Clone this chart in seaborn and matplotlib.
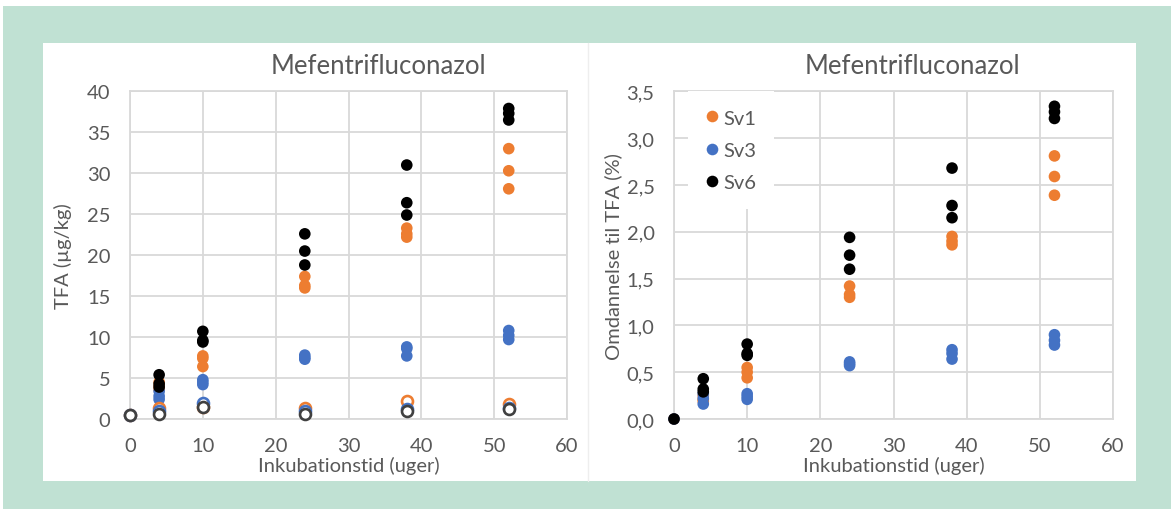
import matplotlib
matplotlib.use("Agg")
import matplotlib.pyplot as plt
from matplotlib.patches import Rectangle
from matplotlib.ticker import FuncFormatter
import numpy as np
import pandas as pd
import seaborn as sns

# Sampling times (weeks) and triplicate measurements per soil
weeks = [0, 4, 10, 24, 38, 52]
soils = ["Sv1", "Sv3", "Sv6"]

# TFA formed (µg/kg), filled markers
tfa_sv1 = [[], [4.5, 4.0, 3.6], [7.7, 7.4, 6.4], [17.4, 16.3, 16.0], [23.3, 22.6, 22.2], [33.0, 30.3, 28.1]]
tfa_sv3 = [[], [3.4, 2.8, 2.4], [4.8, 4.5, 4.2], [7.8, 7.5, 7.3], [8.8, 8.6, 7.7], [10.8, 10.2, 9.7]]
tfa_sv6 = [[], [5.4, 4.3, 3.9], [10.7, 9.6, 9.4], [22.6, 20.5, 18.8], [31.0, 26.4, 24.9], [37.9, 37.3, 36.5]]

# Control series (open markers)
ctrl_sv1 = [0.5, 1.3, 1.5, 1.3, 2.2, 1.8]
ctrl_sv3 = [0.5, 1.0, 1.9, 1.0, 1.2, 1.4]
ctrl_sv6 = [0.5, 0.6, 1.5, 0.6, 1.0, 1.2]

# Conversion to TFA (%)
conv_sv1 = [[0.0], [0.25, 0.21, 0.19], [0.55, 0.50, 0.44], [1.42, 1.33, 1.30], [1.95, 1.90, 1.86], [2.81, 2.59, 2.39]]
conv_sv3 = [[0.0], [0.27, 0.22, 0.16], [0.27, 0.24, 0.21], [0.61, 0.59, 0.57], [0.74, 0.70, 0.64], [0.90, 0.84, 0.79]]
conv_sv6 = [[0.0], [0.43, 0.32, 0.29], [0.80, 0.70, 0.68], [1.94, 1.75, 1.60], [2.68, 2.28, 2.15], [3.34, 3.28, 3.21]]

title = "Mefentrifluconazol"
xlabel = "Inkubationstid (uger)"
ylabel_left = "TFA (µg/kg)"
ylabel_right = "Omdannelse til TFA (%)"

palette = {"Sv1": "#ED7D31", "Sv3": "#4472C4", "Sv6": "#000000"}
open_edges = {"Sv1": "#ED7D31", "Sv3": "#4472C4", "Sv6": "#404040"}


def to_long(series_by_soil):
    rows = []
    for soil, reps in series_by_soil.items():
        for w, vals in zip(weeks, reps):
            for v in vals:
                rows.append({"uger": w, "vaerdi": v, "jord": soil})
    return pd.DataFrame(rows)


df_tfa = to_long({"Sv1": tfa_sv1, "Sv3": tfa_sv3, "Sv6": tfa_sv6})
df_conv = to_long({"Sv1": conv_sv1, "Sv3": conv_sv3, "Sv6": conv_sv6})
df_ctrl = pd.DataFrame(
    [{"uger": w, "vaerdi": v, "jord": s}
     for s, vals in zip(soils, [ctrl_sv1, ctrl_sv3, ctrl_sv6])
     for w, v in zip(weeks, vals)]
)

sns.set_theme(style="whitegrid")
plt.rcParams["font.family"] = ["Lato", "DejaVu Sans"]
TXT = "#595959"
GRID = "#D9D9D9"
FS = 14.5

W, H = 1171, 510
fig = plt.figure(figsize=(W / 100, H / 100), dpi=100)
fig.patch.set_facecolor("white")

# Page background: green frame with a white card holding both charts
bg = fig.add_axes([0, 0, 1, 1], zorder=-10)
bg.set_xlim(0, W)
bg.set_ylim(H, 0)
bg.axis("off")
bg.add_patch(Rectangle((3, 7), W - 3, H - 7, facecolor="#C0E1D3", edgecolor="none"))
bg.add_patch(Rectangle((43, 44), 1136 - 43, 482 - 44, facecolor="white", edgecolor="none"))
bg.plot([588, 588], [44, 482], color="#EEEEEE", lw=1)

ax1 = fig.add_axes([130 / W, 1 - 420 / H, (567 - 130) / W, (420 - 92.3) / H])
ax2 = fig.add_axes([674 / W, 1 - 420 / H, (1113 - 674) / W, (420 - 92.3) / H])

MS = 70

# Left panel: filled replicates then open control markers
sns.scatterplot(data=df_tfa, x="uger", y="vaerdi", hue="jord", palette=palette,
                s=MS, linewidth=0, ax=ax1, legend=False, zorder=3)
for s in soils:
    sub = df_ctrl[df_ctrl["jord"] == s]
    sns.scatterplot(x=sub["uger"], y=sub["vaerdi"], s=MS - 8, facecolor="white",
                    edgecolor=open_edges[s], linewidth=1.9, ax=ax1, zorder=4)

# Right panel
sns.scatterplot(data=df_conv, x="uger", y="vaerdi", hue="jord", palette=palette,
                s=MS, linewidth=0, ax=ax2, zorder=3)

for ax, ymax, ystep, ylab, lpad in [(ax1, 40, 5, ylabel_left, 11),
                                     (ax2, 3.5, 0.5, ylabel_right, 3.5)]:
    ax.set_xlim(0, 60)
    ax.set_ylim(0, ymax)
    ax.set_xticks(np.arange(0, 61, 10))
    ax.set_yticks(np.arange(0, ymax + ystep / 2, ystep))
    ax.grid(True, color=GRID, lw=1.3)
    ax.set_axisbelow(True)
    for sp in ax.spines.values():
        sp.set_color(GRID)
        sp.set_linewidth(1.3)
    ax.tick_params(axis="both", colors=TXT, labelsize=FS, length=0, pad=14)
    ax.tick_params(axis="x", pad=13)
    ax.set_xlabel(xlabel, color=TXT, fontsize=FS, labelpad=1)
    ax.set_ylabel(ylab, color=TXT, fontsize=FS, labelpad=lpad)
    ax.set_facecolor("white")
    for c in ax.collections:
        c.set_clip_on(False)

ax1.yaxis.set_major_formatter(FuncFormatter(lambda v, p: f"{v:.0f}"))
ax2.yaxis.set_major_formatter(FuncFormatter(lambda v, p: f"{v:.1f}".replace(".", ",")))

bg.text(378.5, 74, title, ha="center", va="baseline", fontsize=18.5, color=TXT)
bg.text(912, 74, title, ha="center", va="baseline", fontsize=18.5, color=TXT)

leg = ax2.legend(loc="upper left", bbox_to_anchor=(0.032, 1.0), frameon=True, fancybox=False,
                 facecolor="white", edgecolor="none", framealpha=1, fontsize=FS,
                 handlelength=0.6, handletextpad=0.25, labelspacing=0.75, borderpad=0.9,
                 borderaxespad=0.0, title=None)
for t in leg.get_texts():
    t.set_color(TXT)
leg.set_zorder(5)

fig.savefig("out.png", dpi=100, facecolor=fig.get_facecolor())
